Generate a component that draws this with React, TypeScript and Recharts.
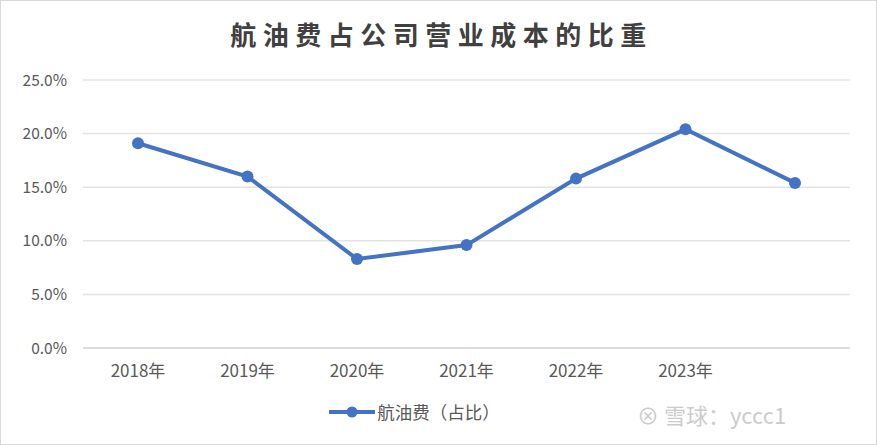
import { LineChart, Line, XAxis, YAxis, CartesianGrid, Legend } from 'recharts';

const years = ['2018年', '2019年', '2020年', '2021年', '2022年', '2023年', ''];
const fuelShare = [19.1, 16.0, 8.3, 9.6, 15.8, 20.4, 15.4];
const yTicks = [0, 5, 10, 15, 20, 25];

const data = years.map((name, i) => ({ name, share: fuelShare[i] }));

const FONT = '"Noto Sans CJK SC", "Noto Sans", sans-serif';
const BLUE = '#4472C4';

export default function App() {
  return (
    <div
      style={{
        position: 'absolute',
        left: 0,
        top: 0,
        width: 877,
        height: 445,
        boxSizing: 'border-box',
        border: '1px solid #d9d9d9',
        background: '#fff',
        fontFamily: FONT,
      }}
    >
      <div
        style={{
          position: 'absolute',
          top: 14,
          left: 2,
          width: 877,
          textAlign: 'center',
          fontSize: 26,
          fontWeight: 'bold',
          letterSpacing: 6.5,
          color: '#404040',
        }}
      >
        航油费占公司营业成本的比重
      </div>
      <div
        style={{
          position: 'absolute',
          left: 636,
          top: 397,
          fontSize: 22,
          color: '#cccccc',
        }}
      >
        ⊗ 雪球：yccc1
      </div>
      <LineChart
        width={875}
        height={443}
        data={data}
        margin={{ top: 79, right: 26, bottom: 16, left: 0 }}
      >
        <CartesianGrid vertical={false} stroke="#e3e3e3" strokeWidth={1.5} />
        <XAxis
          dataKey="name"
          axisLine={{ stroke: '#d9d9d9', strokeWidth: 1.5 }}
          tickLine={false}
          tick={{ fill: '#595959', fontSize: 17, fontFamily: FONT }}
          tickMargin={11}
          interval={0}
          padding={{ left: 55, right: 55 }}
          height={40}
        />
        <YAxis
          domain={[0, 25]}
          ticks={yTicks}
          width={82}
          axisLine={false}
          tickLine={false}
          tickFormatter={(v: number) => `${v.toFixed(1)}%`}
          tick={{ fill: '#595959', fontSize: 15.5, fontFamily: FONT }}
          tickMargin={10}
        />
        <Legend
          verticalAlign="bottom"
          height={40}
          content={() => (
            <div style={{ display: 'flex', alignItems: 'center', justifyContent: 'center', marginLeft: -24, marginTop: 11 }}>
              <svg width={50} height={14}>
                <line x1={2} y1={7} x2={48} y2={7} stroke={BLUE} strokeWidth={4} />
                <circle cx={25} cy={7} r={5.5} fill={BLUE} />
              </svg>
              <span style={{ color: '#595959', fontSize: 17.5, fontFamily: FONT }}>航油费（占比）</span>
            </div>
          )}
        />
        <Line
          dataKey="share"
          name="航油费（占比）"
          stroke={BLUE}
          strokeWidth={4}
          dot={{ r: 6, fill: BLUE, stroke: BLUE, strokeWidth: 0 }}
          isAnimationActive={false}
        />
      </LineChart>
    </div>
  );
}
